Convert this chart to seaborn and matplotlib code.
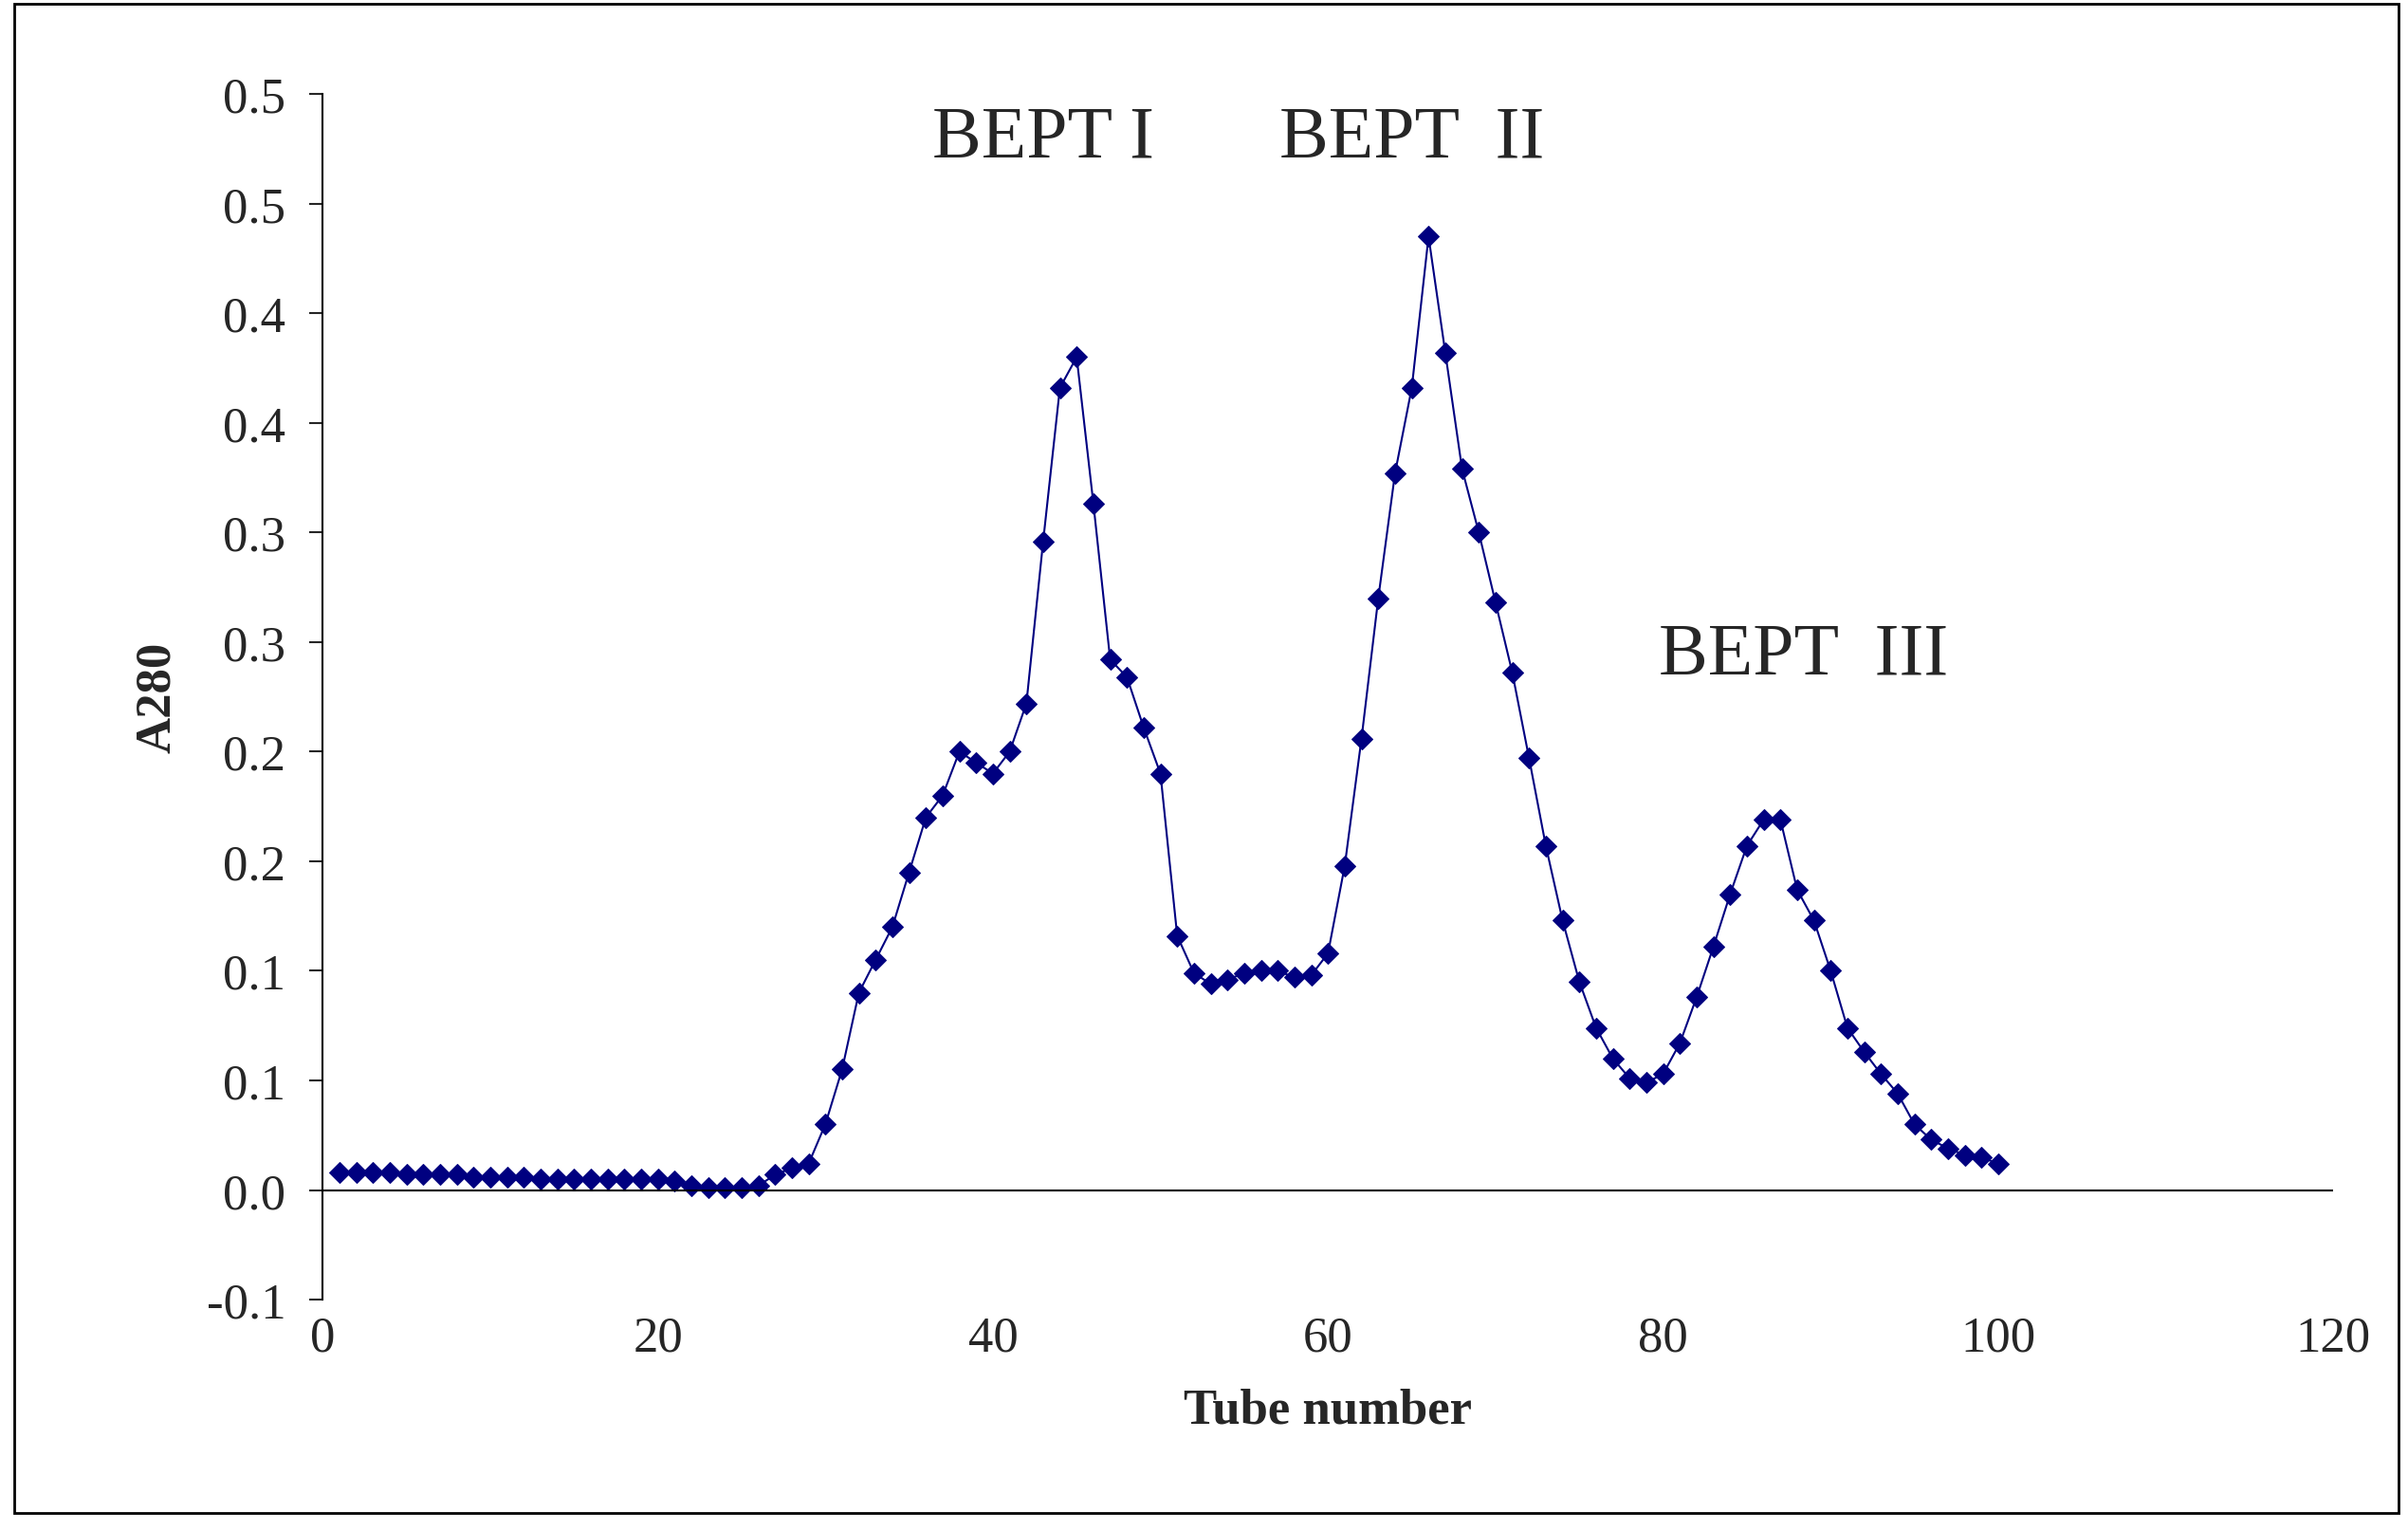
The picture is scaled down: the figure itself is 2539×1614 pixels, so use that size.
import matplotlib
matplotlib.use("Agg")
import matplotlib.pyplot as plt
import seaborn as sns
import pandas as pd

tubes = list(range(1, 101))
a280 = [0.008, 0.008, 0.008, 0.008, 0.007, 0.007, 0.007, 0.007, 0.006, 0.006,
        0.006, 0.006, 0.005, 0.005, 0.005, 0.005, 0.005, 0.005, 0.005, 0.005,
        0.004, 0.002, 0.001, 0.001, 0.001, 0.002, 0.007, 0.010, 0.012, 0.030,
        0.055, 0.090, 0.105, 0.120, 0.145, 0.170, 0.180, 0.200, 0.195, 0.190,
        0.200, 0.222, 0.296, 0.366, 0.380, 0.313, 0.242, 0.234, 0.211, 0.190,
        0.116, 0.099, 0.094, 0.096, 0.099, 0.100, 0.100, 0.097, 0.098, 0.108,
        0.148, 0.206, 0.270, 0.327, 0.366, 0.435, 0.382, 0.329, 0.300, 0.268,
        0.236, 0.197, 0.157, 0.123, 0.095, 0.074, 0.060, 0.051, 0.049, 0.053,
        0.067, 0.088, 0.111, 0.135, 0.157, 0.169, 0.169, 0.137, 0.123, 0.100,
        0.074, 0.063, 0.053, 0.044, 0.030, 0.023, 0.019, 0.016, 0.015, 0.012]
ytick_vals = [-0.05, 0.0, 0.05, 0.1, 0.15, 0.2, 0.25, 0.3, 0.35, 0.4, 0.45, 0.5]
ytick_labels = ["-0.1", "0.0", "0.1", "0.1", "0.2", "0.2", "0.3", "0.3",
                "0.4", "0.4", "0.5", "0.5"]
xtick_vals = [0, 20, 40, 60, 80, 100, 120]
peak_labels = ["BEPT I", "BEPT  II", "BEPT  III"]
peak_pos = [(43, 0.48), (65, 0.48), (88.4, 0.244)]

sns.set_style("white")
plt.rcParams["font.family"] = ["Liberation Serif", "DejaVu Serif"]

df = pd.DataFrame({"tube": tubes, "a280": a280})
fig = plt.figure(figsize=(25.39, 16.15), dpi=100)
ax = fig.add_axes([0.134, 0.151, 0.835, 0.787])
sns.lineplot(data=df, x="tube", y="a280", ax=ax, color="#000080", lw=1.5,
             marker="D", markersize=11, markeredgecolor="#000080")
ax.set_xlim(0, 120)
ax.set_ylim(-0.05, 0.5)
ax.set_yticks(ytick_vals)
ax.set_yticklabels(ytick_labels, fontsize=38)
ax.set_xticks(xtick_vals)
ax.set_xticklabels([str(v) for v in xtick_vals], fontsize=38)
ax.tick_params(axis="x", length=0, pad=12)
ax.tick_params(axis="y", direction="out", length=10, width=1.5, left=True, pad=18)
for s in ["top", "right", "bottom"]:
    ax.spines[s].set_visible(False)
ax.spines["left"].set_linewidth(1.5)
ax.spines["left"].set_color("black")
ax.axhline(0, color="black", lw=1.5)
ax.set_xlabel("Tube number", fontsize=38, fontweight="bold", labelpad=20)
ax.set_ylabel("A280", fontsize=38, fontweight="bold", labelpad=20)
for lab, (x, y) in zip(peak_labels, peak_pos):
    ax.text(x, y, lab, fontsize=56, ha="center", va="center")
fig.patches.append(plt.Rectangle((0.006, 0.012), 0.99, 0.985, transform=fig.transFigure,
                                 fill=False, edgecolor="black", lw=2))
fig.savefig("out.png", dpi=100)
